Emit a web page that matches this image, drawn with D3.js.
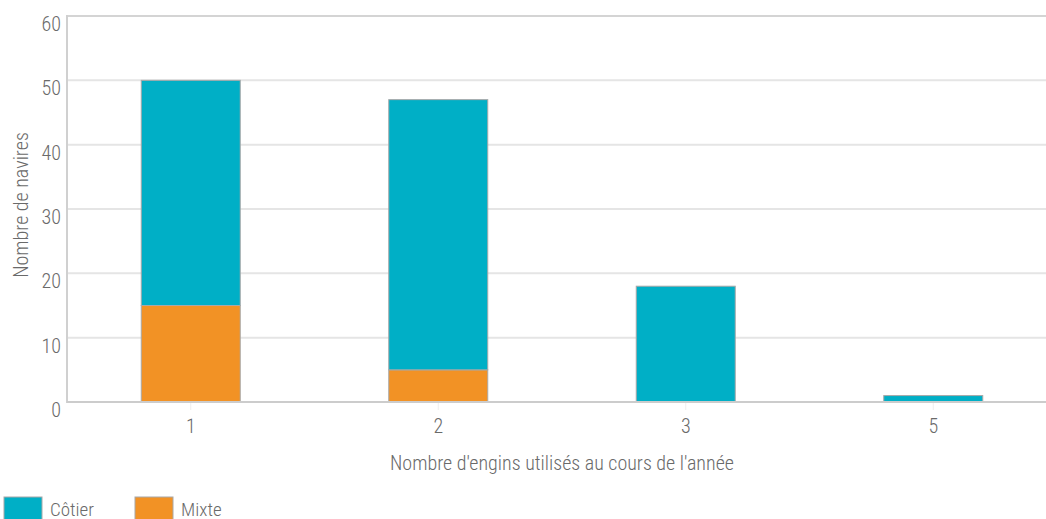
<!DOCTYPE html>
<html><head><meta charset="utf-8">
<script src="https://cdn.jsdelivr.net/npm/d3@7"></script>
<style>
html,body{margin:0;padding:0;background:#fff;}
text{font-family:"Roboto Condensed","Liberation Sans",sans-serif;font-weight:300;fill:#6a6a6a;}
</style></head>
<body><svg id="c" width="1046" height="519"></svg>
<script>
const categories = ["1","2","3","5"];
const cotier = [35, 42, 18, 1];
const mixte = [15, 5, 0, 0];
const seriesNames = ["Côtier","Mixte"];
const colors = ["#00AFC6","#F29225"];
const yTicks = [0,10,20,30,40,50,60];

(function(){
const svg = d3.select("#c");
const pl = 67, pr = 1057, pt = 16, pb = 402;
const x = d3.scaleBand().domain(categories).range([pl,pr]).paddingInner(0.6).paddingOuter(0.3);
const y = d3.scaleLinear().domain([0,60]).range([pb,pt]);

// gridlines
svg.append("g").selectAll("line").data(yTicks.filter(d=>d>0 && d<60)).join("line")
  .attr("x1",pl).attr("x2",1046).attr("y1",d=>y(d)).attr("y2",d=>y(d))
  .attr("stroke","#e5e5e5").attr("stroke-width",2);
// top border line
svg.append("line").attr("x1",pl).attr("x2",1046).attr("y1",y(60)).attr("y2",y(60))
  .attr("stroke","#d4d4d4").attr("stroke-width",2);

// x tick marks
svg.append("g").selectAll("line").data(categories).join("line")
  .attr("x1",d=>x(d)+x.bandwidth()/2).attr("x2",d=>x(d)+x.bandwidth()/2)
  .attr("y1",pb).attr("y2",pb+8).attr("stroke","#eeeeee").attr("stroke-width",1);

// stacked bars
const data = categories.map((c,i)=>({cat:c, "Côtier":cotier[i], "Mixte":mixte[i]}));
const stack = d3.stack().keys(["Mixte","Côtier"])(data);
svg.append("g").selectAll("g").data(stack).join("g")
  .attr("fill",s=>colors[seriesNames.indexOf(s.key)])
  .selectAll("rect").data(s=>s.filter(d=>d[1]-d[0]>0)).join("rect")
  .attr("x",d=>x(d.data.cat)).attr("width",x.bandwidth())
  .attr("y",d=>y(d[1])).attr("height",d=>y(d[0])-y(d[1]))
  .attr("stroke","#a8a8a8").attr("stroke-width",1);

// axes lines
svg.append("line").attr("x1",pl).attr("x2",pl).attr("y1",pt-1).attr("y2",pb+1)
  .attr("stroke","#d0d0d0").attr("stroke-width",2);
svg.append("line").attr("x1",pl).attr("x2",1046).attr("y1",pb).attr("y2",pb)
  .attr("stroke","#cccccc").attr("stroke-width",2);

// y tick labels
svg.append("g").selectAll("text").data(yTicks).join("text")
  .attr("x",61).attr("y",d=>y(d)+15).attr("text-anchor","end")
  .attr("font-size",20).text(d=>d);

// x tick labels
svg.append("g").selectAll("text").data(categories).join("text")
  .attr("x",d=>x(d)+x.bandwidth()/2).attr("y",433).attr("text-anchor","middle")
  .attr("font-size",20).text(d=>d);

// axis titles
svg.append("text").attr("x",(pl+pr)/2).attr("y",470).attr("text-anchor","middle")
  .attr("font-size",20).text("Nombre d'engins utilisés au cours de l'année");
svg.append("text").attr("transform",`translate(28,205) rotate(-90)`)
  .attr("text-anchor","middle").attr("font-size",20).text("Nombre de navires");

// legend
const leg = svg.append("g").selectAll("g").data(seriesNames).join("g")
  .attr("transform",(d,i)=>`translate(${4+i*131},497)`);
leg.append("rect").attr("width",38).attr("height",24).attr("fill",(d,i)=>colors[i])
  .attr("stroke","#a8a8a8").attr("stroke-width",1);
leg.append("text").attr("x",46).attr("y",19).attr("font-size",19).text(d=>d);
})();
</script></body></html>
